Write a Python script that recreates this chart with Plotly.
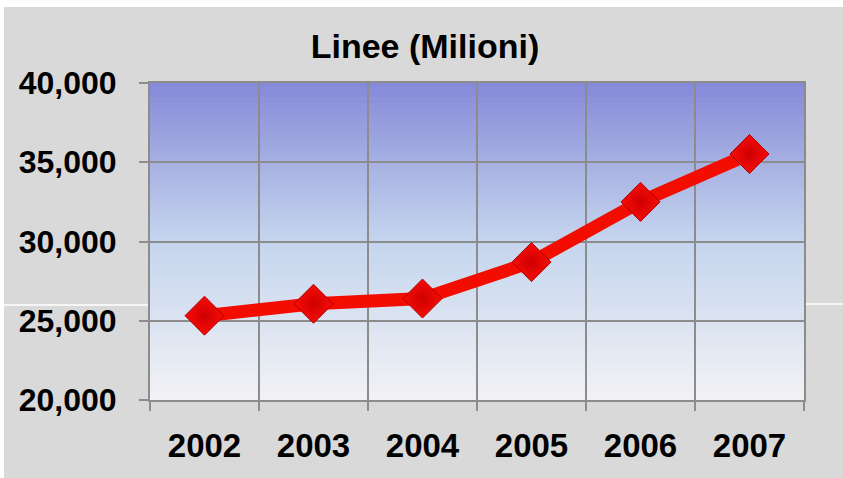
import plotly.graph_objects as go

years = ["2002", "2003", "2004", "2005", "2006", "2007"]
lines_millions = [25320, 26070, 26400, 28700, 32500, 35520]
y_ticks = [20000, 25000, 30000, 35000, 40000]
title_text = "Linee (Milioni)"

W, H = 843, 478
L, R, T, B = 150, 804, 83, 400  # plot area in px

def px_x(p):
    return (p - L) / (R - L)

def px_y(p):
    return (B - p) / (B - T)

shapes = []
# thin white strips at top and left of the gray card
shapes.append(dict(type="rect", xref="paper", yref="paper", layer="below",
                   x0=px_x(-5), x1=px_x(W + 5), y0=px_y(7), y1=px_y(-5),
                   fillcolor="white", line=dict(width=0)))
shapes.append(dict(type="rect", xref="paper", yref="paper", layer="below",
                   x0=px_x(-5), x1=px_x(4), y0=px_y(H + 5), y1=px_y(-5),
                   fillcolor="white", line=dict(width=0)))

# vertical gradient in plot area
stops = [(0.0, (242, 242, 245)), (0.25, (219, 227, 241)), (0.5, (197, 213, 238)),
         (0.75, (166, 176, 226)), (1.0, (134, 137, 217))]

def col(t):
    for i in range(len(stops) - 1):
        a, ca = stops[i]
        b, cb = stops[i + 1]
        if a <= t <= b:
            f = (t - a) / (b - a)
            return "rgb(%d,%d,%d)" % tuple(round(ca[k] + (cb[k] - ca[k]) * f) for k in range(3))
    return "rgb(%d,%d,%d)" % stops[-1][1]

N = 100
for i in range(N):
    y0 = i / N
    y1 = (i + 1) / N
    shapes.append(dict(type="rect", xref="x domain", yref="y domain", layer="below",
                       x0=0, x1=1, y0=y0, y1=y1 + 0.002,
                       fillcolor=col((y0 + y1) / 2), line=dict(width=0)))

# white seam lines
shapes.append(dict(type="line", xref="paper", yref="paper", layer="above",
                   x0=px_x(4), x1=px_x(148), y0=px_y(305), y1=px_y(305),
                   line=dict(color="white", width=1.5)))
shapes.append(dict(type="line", xref="paper", yref="paper", layer="above",
                   x0=px_x(806), x1=px_x(W + 2), y0=px_y(304), y1=px_y(304),
                   line=dict(color="white", width=1.5)))

fig = go.Figure()
fig.add_trace(go.Scatter(
    x=years, y=lines_millions, mode="lines+markers",
    line=dict(color="rgb(243,12,0)", width=13),
    marker=dict(symbol="diamond", size=30, color="rgb(248,12,8)",
                gradient=dict(type="radial", color="rgb(205,0,0)"),
                line=dict(color="rgb(175,0,0)", width=1)),
    showlegend=False, hoverinfo="x+y",
))

FONT = "Liberation Sans, Arial, sans-serif"
grid = "#8c8c8c"

fig.update_layout(
    width=W, height=H,
    margin=dict(l=L, r=W - R, t=T, b=H - B, pad=0),
    paper_bgcolor="#d9d9d9", plot_bgcolor="rgba(0,0,0,0)",
    shapes=shapes,
    title=dict(text="<b>" + title_text + "</b>", xref="container", yref="container",
               x=425 / W, y=1 - 46 / H, xanchor="center", yanchor="middle",
               font=dict(family=FONT, size=34, color="black")),
    xaxis=dict(type="category", tickson="boundaries", showgrid=True, gridcolor=grid, gridwidth=2,
               showline=True, linecolor=grid, linewidth=2, mirror=True,
               ticks="outside", ticklen=9, tickcolor=grid, tickwidth=2,
               tickfont=dict(family=FONT, size=33, color="black"),
               ticklabelstandoff=15, range=[-0.5, 5.5],
               tickvals=years, ticktext=["<b>%s</b>" % y for y in years]),
    yaxis=dict(range=[20000, 40000], tickvals=y_ticks,
               ticktext=["<b>{:,}</b>".format(v) for v in y_ticks],
               showgrid=True, gridcolor=grid, gridwidth=2,
               showline=True, linecolor=grid, linewidth=2, mirror=True,
               ticks="outside", ticklen=9, tickcolor=grid, tickwidth=2,
               tickfont=dict(family=FONT, size=32, color="black"),
               ticklabelstandoff=16, zeroline=False),
)

fig.write_html("out.html", config={"displayModeBar": False},
               post_script="document.body.style.margin='0';document.body.style.overflow='hidden';"
                           "document.body.style.background='#d9d9d9';"
                           "document.documentElement.style.background='#d9d9d9';")
